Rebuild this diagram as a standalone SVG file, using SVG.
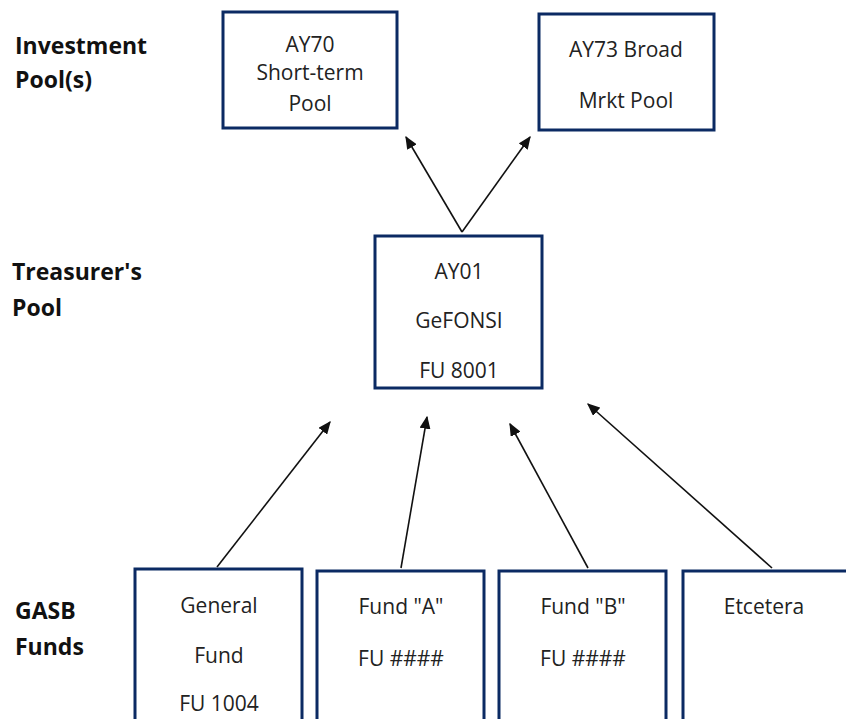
<svg xmlns="http://www.w3.org/2000/svg" width="846" height="719" viewBox="0 0 846 719">
<style>
.box{fill:#fff;stroke:#0b2a63;stroke-width:3}
.t{font-family:"Open Sans","Liberation Sans",sans-serif;font-size:21px;fill:#222;text-anchor:middle}
.lab{font-family:"Open Sans","Liberation Sans",sans-serif;font-size:23px;font-weight:bold;fill:#111}
.c{stroke:#111;stroke-width:1.6;fill:none;marker-end:url(#ah)}
</style>
<defs>
<marker id="ah" viewBox="0 0 10 10" refX="9" refY="5" markerWidth="13" markerHeight="11" orient="auto" markerUnits="userSpaceOnUse" preserveAspectRatio="none">
<path d="M0,0 L10,5 L0,10 z" fill="#111"/>
</marker>
</defs>
<rect width="846" height="719" fill="#fff"/>
<g id="labels">
<text class="lab" x="15" y="54">Investment</text>
<text class="lab" x="15" y="88">Pool(s)</text>
<text class="lab" x="12" y="280">Treasurer's</text>
<text class="lab" x="12" y="316">Pool</text>
<text class="lab" x="15" y="619">GASB</text>
<text class="lab" x="15" y="655">Funds</text>
</g>
<g id="connectors">
<line class="c" x1="462" y1="232" x2="406" y2="137"/>
<line class="c" x1="462" y1="232" x2="530" y2="137"/>
<line class="c" x1="217" y1="567" x2="330" y2="422"/>
<line class="c" x1="401" y1="568" x2="427" y2="417"/>
<line class="c" x1="588" y1="568" x2="510" y2="424"/>
<line class="c" x1="772" y1="568" x2="588" y2="404"/>
</g>
<g id="ay70">
<rect class="box" x="223" y="12" width="174" height="116"/>
<text class="t" x="310" y="52">AY70</text>
<text class="t" x="310" y="80">Short-term</text>
<text class="t" x="310" y="111">Pool</text>
</g>
<g id="ay73">
<rect class="box" x="539" y="14" width="175" height="116"/>
<text class="t" x="626" y="57">AY73 Broad</text>
<text class="t" x="626" y="108">Mrkt Pool</text>
</g>
<g id="ay01">
<rect class="box" x="375" y="236" width="167" height="152"/>
<text class="t" x="459" y="279">AY01</text>
<text class="t" x="459" y="328">GeFONSI</text>
<text class="t" x="459" y="378">FU 8001</text>
</g>
<g id="general">
<rect class="box" x="135" y="569" width="167" height="160"/>
<text class="t" x="219" y="613">General</text>
<text class="t" x="219" y="663">Fund</text>
<text class="t" x="219" y="711">FU 1004</text>
</g>
<g id="funda">
<rect class="box" x="317" y="571" width="167" height="160"/>
<text class="t" x="401" y="614">Fund "A"</text>
<text class="t" x="401" y="666">FU ####</text>
</g>
<g id="fundb">
<rect class="box" x="499" y="571" width="167" height="160"/>
<text class="t" x="583" y="614">Fund "B"</text>
<text class="t" x="583" y="666">FU ####</text>
</g>
<g id="etc">
<rect class="box" x="683" y="571" width="175" height="160"/>
<text class="t" x="764" y="614">Etcetera</text>
</g>
</svg>
